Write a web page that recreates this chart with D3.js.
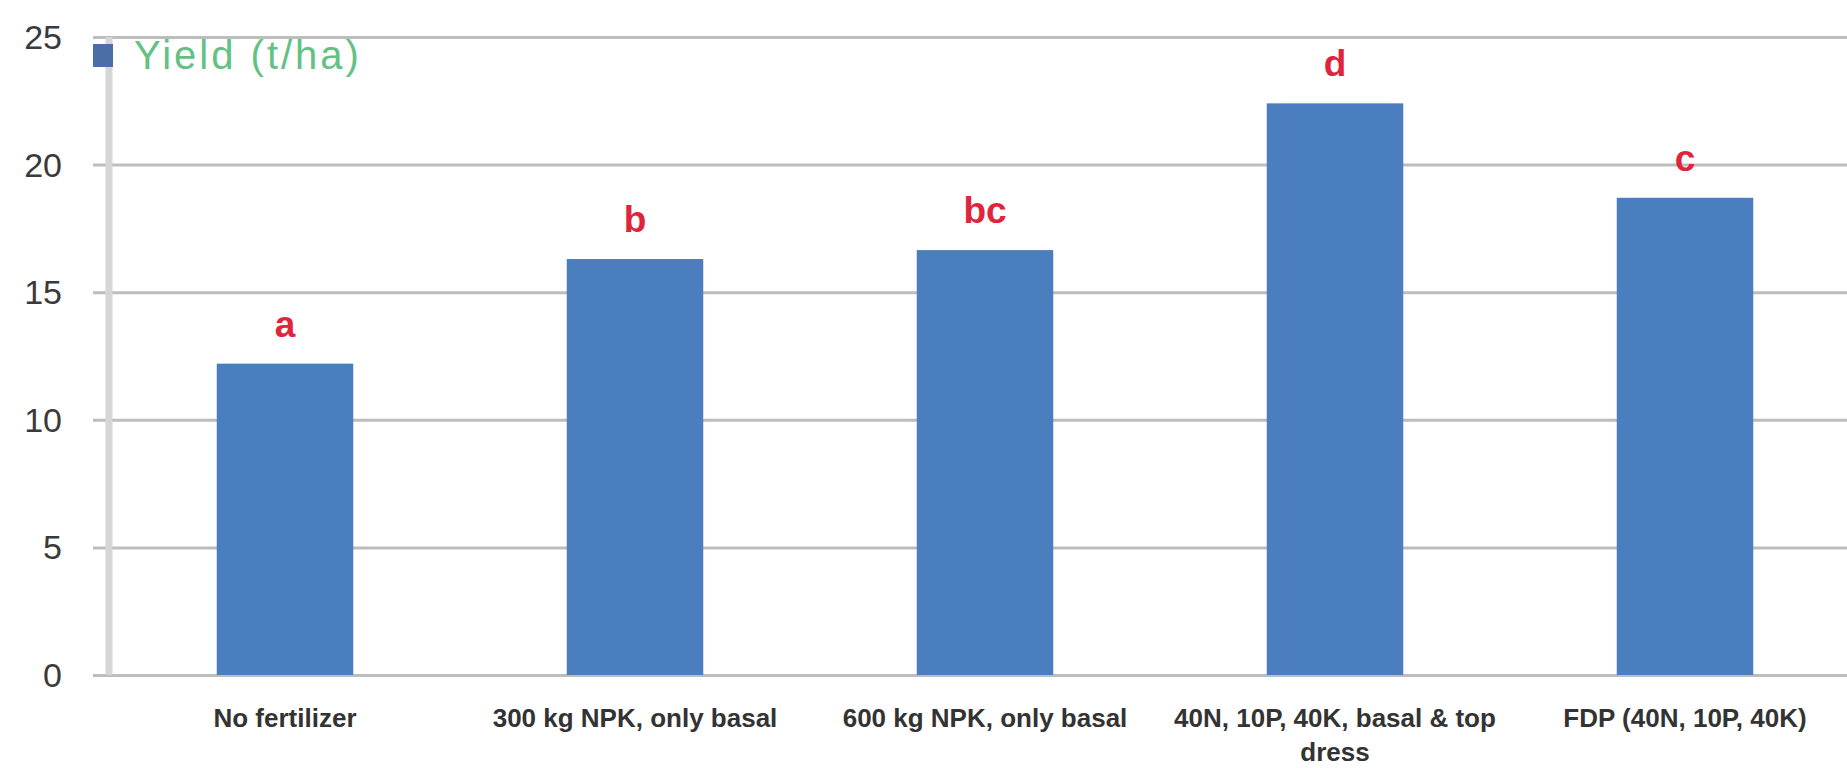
<!DOCTYPE html>
<html>
<head>
<meta charset="utf-8">
<script src="https://cdn.jsdelivr.net/npm/d3@7"></script>
<style>
  html, body { margin: 0; padding: 0; background: #ffffff; }
  svg { display: block; }
</style>
</head>
<body>
<svg id="chart" width="1847" height="768"></svg>
<script>
// Treatments and mean yields (t/ha) with significance letters
const categories = [
  "No fertilizer",
  "300 kg NPK, only basal",
  "600 kg NPK, only basal",
  "40N, 10P, 40K, basal & top dress",
  "FDP (40N, 10P, 40K)"
];
const yieldValues = [12.2, 16.3, 16.65, 22.4, 18.7];
const sigLetters = ["a", "b", "bc", "d", "c"];
const yTicks = [0, 5, 10, 15, 20, 25];
const seriesName = "Yield (t/ha)";

const W = 1847, H = 768;
const svg = d3.select("#chart");

const x = d3.scaleBand()
  .domain(categories)
  .range([110, 1860])
  .paddingInner(0.61)
  .paddingOuter(0.305);

const y = d3.scaleLinear()
  .domain([0, 25])
  .range([675, 37]);

// horizontal gridlines with short outward ticks
const grid = svg.append("g")
  .attr("transform", "translate(110,0)")
  .call(d3.axisLeft(y).tickValues(yTicks).tickSize(-(W - 110)).tickSizeOuter(0).tickFormat(""));
grid.select(".domain").remove();
grid.selectAll(".tick line")
  .attr("x1", -17)
  .attr("stroke", "#bdbdbd")
  .attr("stroke-width", 3);

// vertical axis line
svg.append("line")
  .attr("x1", 109).attr("x2", 109)
  .attr("y1", y(25)).attr("y2", y(0))
  .attr("stroke", "#d6d6d6")
  .attr("stroke-width", 7);

// y tick labels
svg.append("g")
  .selectAll("text")
  .data(yTicks)
  .join("text")
  .attr("x", 62)
  .attr("y", d => y(d))
  .attr("dy", "0.35em")
  .attr("text-anchor", "end")
  .attr("font-family", "Liberation Sans, Arial, sans-serif")
  .attr("font-size", 34)
  .attr("fill", "#3a3a3a")
  .text(d => d);

// bars
svg.append("g")
  .selectAll("rect")
  .data(yieldValues)
  .join("rect")
  .attr("x", (d, i) => x(categories[i]))
  .attr("width", x.bandwidth())
  .attr("y", d => y(d))
  .attr("height", d => y(0) - y(d))
  .attr("fill", "#4a7ebe");

// significance letters above bars
svg.append("g")
  .selectAll("text")
  .data(yieldValues)
  .join("text")
  .attr("x", (d, i) => x(categories[i]) + x.bandwidth() / 2)
  .attr("y", d => y(d) - 27)
  .attr("text-anchor", "middle")
  .attr("font-family", "Liberation Sans, Arial, sans-serif")
  .attr("font-weight", "bold")
  .attr("font-size", 37)
  .attr("fill", "#e0243c")
  .text((d, i) => sigLetters[i]);

// category labels, wrapped onto two lines when too wide
const xAxis = svg.append("g")
  .attr("transform", `translate(0,${y(0)})`)
  .call(d3.axisBottom(x).tickSize(0).tickPadding(0));
xAxis.select(".domain").remove();
xAxis.selectAll(".tick text")
  .attr("dy", null)
  .attr("font-family", "Liberation Sans, Arial, sans-serif")
  .attr("font-weight", "bold")
  .attr("font-size", 26)
  .attr("fill", "#333333")
  .each(function() {
    const t = d3.select(this);
    const words = t.text().split(/\s+/);
    t.text(null);
    let line = [];
    let lineNo = 0;
    let tspan = t.append("tspan").attr("x", 0).attr("y", 52);
    for (const w of words) {
      line.push(w);
      tspan.text(line.join(" "));
      if (tspan.node().getComputedTextLength() > 360 && line.length > 1) {
        line.pop();
        tspan.text(line.join(" "));
        line = [w];
        lineNo++;
        tspan = t.append("tspan").attr("x", 0).attr("y", 52 + lineNo * 34).text(w);
      }
    }
  });

// legend
const legend = svg.append("g");
legend.append("rect")
  .attr("x", 93).attr("y", 44)
  .attr("width", 20).attr("height", 23)
  .attr("fill", "#4b6ea6");
legend.append("text")
  .attr("x", 134).attr("y", 55)
  .attr("dy", "0.35em")
  .attr("font-family", "Liberation Sans, Arial, sans-serif")
  .attr("font-size", 40)
  .attr("letter-spacing", 3)
  .attr("fill", "#63c184")
  .text(seriesName);
</script>
</body>
</html>
